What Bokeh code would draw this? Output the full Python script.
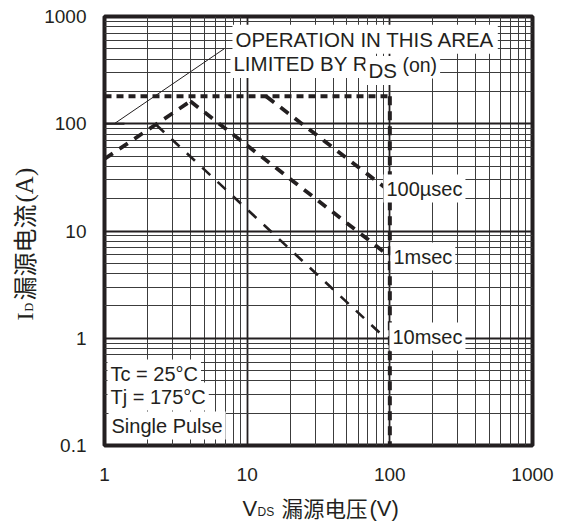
import math
from bokeh.plotting import figure
from bokeh.layouts import row, column
from bokeh.models import FixedTicker, CustomJSTickFormatter, Label, Range1d
from bokeh.embed import file_html
from bokeh.resources import INLINE

# ---------------- data ----------------
x_ticks = [1, 10, 100, 1000]
y_ticks = [0.1, 1, 10, 100, 1000]
x_minor = [m * 10 ** k for k in range(0, 3) for m in range(2, 10)]
y_minor = [m * 10.0 ** k for k in range(-1, 3) for m in range(2, 10)]

# SOA boundaries (VDS [V], ID [A])
limit_h_x = [1, 100]
limit_h_y = [180, 180]
limit_v_x = [100, 100]
limit_v_y = [180, 0.1]
rds_x = [1, 4]
rds_y = [47, 162]
us100_x = [13.6, 95]
us100_y = [180, 24.7]
ms1_x = [4, 95]
ms1_y = [162, 6.1]
ms10_x = [2.3, 95]
ms10_y = [98, 0.98]
pointer_x = [1.17, 6.9]
pointer_y = [100, 500]
stub_x = [1, 1.38]
stub_y = [100, 100]

INK = "#231f20"
SANS = "Liberation Sans"
SERIF = "Liberation Serif"
CJK = "Noto Sans CJK SC"

YW = 40          # width of the y-title strip
PH = 490         # height of the main figure
W, H = 566, 528

p = figure(width=W - YW, height=PH, x_axis_type="log", y_axis_type="log",
           x_range=(1, 1000), y_range=(0.1, 1000),
           output_backend="svg", toolbar_location=None,
           min_border_left=104 - YW, min_border_right=34,
           min_border_top=16, min_border_bottom=PH - 445)
p.background_fill_color = "white"
p.border_fill_color = "white"
p.outline_line_color = INK
p.outline_line_width = 4

fmt = CustomJSTickFormatter(code="return tick < 1 ? tick.toFixed(1) : tick.toFixed(0);")
p.xaxis.ticker = FixedTicker(ticks=x_ticks, minor_ticks=x_minor)
p.yaxis.ticker = FixedTicker(ticks=y_ticks, minor_ticks=y_minor)
for ax in (p.xaxis, p.yaxis):
    ax.formatter = fmt
    ax.axis_line_color = None
    ax.major_tick_line_color = None
    ax.minor_tick_line_color = None
    ax.major_tick_out = 0
    ax.major_tick_in = 0
    ax.minor_tick_out = 0
    ax.minor_tick_in = 0
    ax.major_label_text_font = SANS
    ax.major_label_text_font_size = "19px"
    ax.major_label_text_color = INK
p.yaxis.major_label_standoff = 18
p.xaxis.major_label_standoff = 22

for g in (p.xgrid, p.ygrid):
    g.grid_line_color = INK
    g.grid_line_width = 1.8
    g.minor_grid_line_color = "#3c3c3c"
    g.minor_grid_line_width = 1.0

# ---------------- curves ----------------
p.line(limit_h_x, limit_h_y, line_color=INK, line_width=4, line_dash="7 5")
p.line(limit_v_x, limit_v_y, line_color=INK, line_width=4, line_dash="9 6")
p.line(rds_x, rds_y, line_color=INK, line_width=3.8, line_dash="10 8")
p.line(us100_x, us100_y, line_color=INK, line_width=3.8, line_dash="10 8")
p.line(ms1_x, ms1_y, line_color=INK, line_width=3.8, line_dash="10 8")
p.line(ms10_x, ms10_y, line_color=INK, line_width=2.6, line_dash="11 10")
p.line(pointer_x, pointer_y, line_color=INK, line_width=1.0)
p.line(stub_x, stub_y, line_color=INK, line_width=2.2)


# label placement helpers (page pixels -> axis values, for annotations only)
def fx(px):
    return 10 ** ((px - 104) / 142.7)


def fy(py):
    return 10 ** (3 - (py - 16) / 107.25)


def boxed(px, py, text, size="20px"):
    # px, py: left edge / baseline of the text on the page
    p.add_layout(Label(x=fx(px - 5), y=fy(py - 7), text=text, text_font=SANS,
                       text_font_size=size, text_color=INK,
                       text_baseline="alphabetic",
                       background_fill_color="white", padding=3))


boxed(237, 45.7, "OPERATION IN THIS AREA", "20.5px")
boxed(235, 70, "LIMITED BY R", "20.5px")
boxed(370, 77, "DS", "20.5px")
boxed(404, 71, "(on)", "19.5px")

boxed(388, 195, "100µsec")
boxed(395, 263, "1msec")
boxed(394, 343, "10msec")

boxed(112, 380, "Tc = 25°C")
boxed(112, 403, "Tj = 175°C")
boxed(113, 432, "Single Pulse")


def plain(f, x, y, text, size, font, angle=0.0, baseline="middle"):
    f.add_layout(Label(x=x, y=y, text=text, text_font=font, text_font_size=size,
                       text_color=INK, angle=angle, text_align="left",
                       text_baseline=baseline))


def tidy(f):
    f.outline_line_color = None
    f.background_fill_color = "white"
    f.border_fill_color = "white"
    f.grid.visible = False


# x axis title strip (below the main figure, frame aligned with the plot frame)
XH = H - PH
xf = figure(width=W - YW, height=XH, x_axis_type="log", x_range=p.x_range,
            y_range=Range1d(XH, 0), output_backend="svg", toolbar_location=None,
            min_border_left=104 - YW, min_border_right=34,
            min_border_top=0, min_border_bottom=0,
            x_axis_location=None, y_axis_location=None)
tidy(xf)
plain(xf, fx(242), 508.4 - PH, "V", "22px", SANS)
plain(xf, fx(257), 511.8 - PH, "DS", "12px", SANS)
plain(xf, fx(281), 507.0 - PH, "漏源电压", "21.5px", CJK)
plain(xf, fx(369), 508.4 - PH, "(V)", "22px", SANS)

# y axis title strip (left of the main figure)
yf = figure(width=YW, height=H, x_range=Range1d(0, YW), y_range=Range1d(H, 0),
            output_backend="svg", toolbar_location=None, min_border=0,
            x_axis_location=None, y_axis_location=None)
tidy(yf)
ang = math.pi / 2
plain(yf, 24.0, 320, "I", "24px", SERIF, ang)
plain(yf, 28.5, 311, "D", "12px", SERIF, ang)
plain(yf, 22.5, 300, "漏源电流", "24px", CJK, ang)
plain(yf, 24.0, 202, "(A)", "25px", SERIF, ang)

layout = row(yf, column(p, xf))
open("out.html", "w").write(file_html(layout, INLINE))
